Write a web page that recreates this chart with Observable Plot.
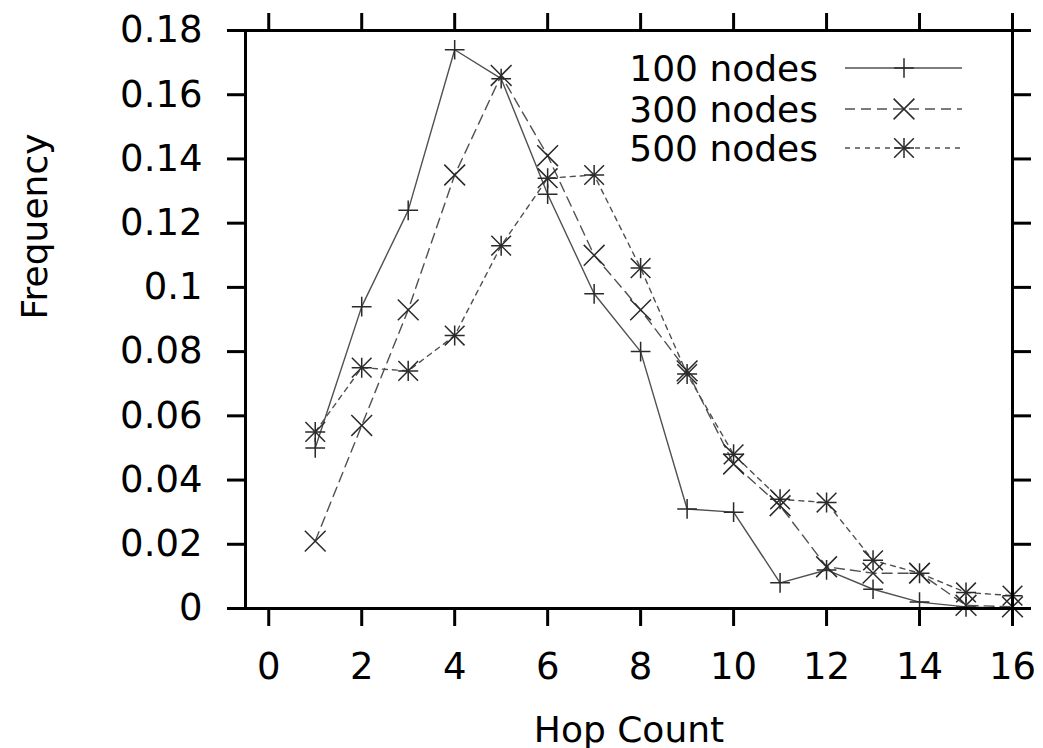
<!DOCTYPE html>
<html><head><meta charset="utf-8">
<script src="https://cdn.jsdelivr.net/npm/d3@7"></script>
<script src="https://cdn.jsdelivr.net/npm/@observablehq/plot@0.6"></script>
<style>
body{margin:0;background:#fff;}
#chart{width:1043px;height:748px;}
</style></head><body><div id="chart"></div>
<script>
// ---- data ----
const hops = [1, 2, 3, 4, 5, 6, 7, 8, 9, 10, 11, 12, 13, 14, 15, 16];
const nodes100 = [0.050, 0.094, 0.124, 0.174, 0.165, 0.129, 0.098, 0.080, 0.031, 0.030, 0.008, 0.012, 0.006, 0.002, 0.0005, 0.0];
const nodes300 = [0.021, 0.057, 0.093, 0.135, 0.166, 0.141, 0.110, 0.093, 0.074, 0.045, 0.032, 0.013, 0.011, 0.011, 0.001, 0.0005];
const nodes500 = [0.055, 0.075, 0.074, 0.085, 0.113, 0.134, 0.135, 0.106, 0.073, 0.048, 0.034, 0.033, 0.015, 0.011, 0.005, 0.004];
const seriesNames = ["100 nodes", "300 nodes", "500 nodes"];
const xTicks = [0, 2, 4, 6, 8, 10, 12, 14, 16];
const yTicks = [0, 0.02, 0.04, 0.06, 0.08, 0.1, 0.12, 0.14, 0.16, 0.18];
const xLabel = "Hop Count";
const yLabel = "Frequency";

const seriesValues = [nodes100, nodes300, nodes500];
const rows = [];
seriesValues.forEach((vals, i) => vals.forEach((v, j) => rows.push({series: seriesNames[i], hop: hops[j], freq: v})));

const styles = {
  "100 nodes": {dash: null, symbols: [["plus", 6.4]]},
  "300 nodes": {dash: "10,6", symbols: [["times", 9.5]]},
  "500 nodes": {dash: "5,5", symbols: [["plus", 6.5], ["times", 9]]}
};
const lineColor = "#505050";
const markColor = "#2a2a2a";
const font = "DejaVu Sans";

const marks = [];
for (const name of seriesNames) {
  const d = rows.filter(r => r.series === name);
  marks.push(Plot.line(d, {x: "hop", y: "freq", stroke: lineColor, strokeWidth: 1.4, strokeDasharray: styles[name].dash}));
}
for (const name of seriesNames) {
  const d = rows.filter(r => r.series === name);
  for (const [sym, r] of styles[name].symbols) {
    marks.push(Plot.dot(d, {x: "hop", y: "freq", symbol: sym, r, stroke: markColor, fill: "none", strokeWidth: 1.5}));
  }
}
marks.push(
  Plot.frame({stroke: "#000", strokeWidth: 3}),
  Plot.axisX(xTicks, {anchor: "bottom", tickSize: 18, tickPadding: 26, strokeWidth: 3, label: null, tickFormat: d => String(d), fontSize: 37}),
  Plot.axisX(xTicks, {anchor: "top", tickSize: 18, strokeWidth: 3, label: null, tickFormat: () => ""}),
  Plot.axisY(yTicks, {anchor: "left", tickSize: 18, tickPadding: 25, strokeWidth: 3, label: null, tickFormat: d => String(d), fontSize: 37}),
  Plot.axisY(yTicks, {anchor: "right", tickSize: 18, strokeWidth: 3, label: null, tickFormat: () => ""}),
  Plot.text([xLabel], {frameAnchor: "bottom", lineAnchor: "bottom", dy: 133, fontSize: 36, fill: "#000"}),
  Plot.text([yLabel], {frameAnchor: "left", rotate: -90, lineAnchor: "middle", dx: -210, fontSize: 36, fill: "#000"})
);

const svg = Plot.plot({
  width: 1043,
  height: 748,
  marginLeft: 245,
  marginRight: 31,
  marginTop: 30,
  marginBottom: 140,
  style: {fontFamily: font, fontSize: "37px", background: "#fff", color: "#000"},
  x: {domain: [-0.5, 16], axis: null},
  y: {domain: [0, 0.18], axis: null},
  marks
});
document.getElementById("chart").appendChild(svg);

// ---- legend (inside plot, top right) ----
const lg = d3.select(svg).append("g").attr("font-family", font).attr("font-size", 36);
const rowY = [68, 109, 148];
seriesNames.forEach((name, i) => {
  const y = rowY[i];
  lg.append("text").attr("x", 818).attr("y", y + 13).attr("text-anchor", "end").attr("fill", "#000").text(name);
  lg.append("line").attr("x1", 845).attr("x2", 962).attr("y1", y).attr("y2", y)
    .attr("stroke", lineColor).attr("stroke-width", 1.4)
    .attr("stroke-dasharray", styles[name].dash);
  for (const [sym, r] of styles[name].symbols) {
    const type = sym === "plus" ? d3.symbolPlus : d3.symbolTimes;
    lg.append("path").attr("transform", `translate(904,${y})`)
      .attr("d", d3.symbol(type, Math.PI * r * r)())
      .attr("fill", "none").attr("stroke", markColor).attr("stroke-width", 1.5);
  }
});
</script></body></html>
